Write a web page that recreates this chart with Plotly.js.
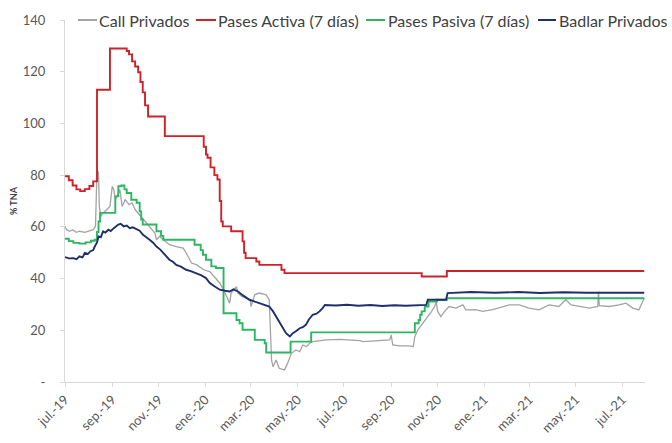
<!DOCTYPE html>
<html>
<head>
<meta charset="utf-8">
<script src="https://cdn.plot.ly/plotly-3.0.1.min.js"></script>
<style>html,body{margin:0;padding:0;background:#fff;}#chart{width:672px;height:443px;}</style>
</head>
<body>
<div id="chart"></div>
<script>
// ---- Data ----
const seriesNames = ['Call Privados', 'Pases Activa (7 días)', 'Pases Pasiva (7 días)', 'Badlar Privados'];

const tickDates = ['2019-07-01','2019-09-01','2019-11-01','2020-01-01','2020-03-01','2020-05-01','2020-07-01','2020-09-01','2020-11-01','2021-01-01','2021-03-01','2021-05-01','2021-07-01'];
const tickLabels = ['jul.-19','sep.-19','nov.-19','ene.-20','mar.-20','may.-20','jul.-20','sep.-20','nov.-20','ene.-21','mar.-21','may.-21','jul.-21'];
const yTickValues = [0, 20, 40, 60, 80, 100, 120, 140];
const yTickLabels = ['-', '20', '40', '60', '80', '100', '120', '140'];

const callDates = ['2019-07-01','2019-07-03','2019-07-07','2019-07-11','2019-07-16','2019-07-20','2019-07-27','2019-08-02','2019-08-07','2019-08-10','2019-08-12','2019-08-14','2019-08-15','2019-08-17','2019-08-20','2019-08-25','2019-08-29','2019-09-01','2019-09-03','2019-09-05','2019-09-11','2019-09-14','2019-09-18','2019-09-23','2019-09-27','2019-10-01','2019-10-07','2019-10-14','2019-10-20','2019-10-27','2019-10-29','2019-11-02','2019-11-07','2019-11-15','2019-11-24','2019-12-03','2019-12-07','2019-12-14','2019-12-21','2019-12-30','2020-01-07','2020-01-13','2020-01-20','2020-01-26','2020-01-31','2020-02-02','2020-02-04','2020-02-11','2020-02-13','2020-02-18','2020-02-29','2020-03-01','2020-03-06','2020-03-12','2020-03-21','2020-03-25','2020-03-28','2020-03-30','2020-04-03','2020-04-07','2020-04-14','2020-04-18','2020-04-23','2020-04-29','2020-05-04','2020-05-08','2020-05-13','2020-05-17','2020-05-21','2020-06-08','2020-06-26','2020-07-04','2020-07-22','2020-07-26','2020-08-12','2020-08-30','2020-09-01','2020-09-03','2020-09-12','2020-09-25','2020-09-30','2020-10-02','2020-10-06','2020-10-11','2020-10-15','2020-10-19','2020-10-24','2020-10-28','2020-10-30','2020-11-01','2020-11-05','2020-11-10','2020-11-16','2020-11-25','2020-12-04','2020-12-08','2020-12-21','2020-12-30','2021-01-12','2021-01-25','2021-02-03','2021-02-16','2021-03-01','2021-03-14','2021-03-27','2021-04-09','2021-04-18','2021-04-25','2021-05-06','2021-05-19','2021-05-30','2021-05-31','2021-06-01','2021-06-14','2021-06-27','2021-07-06','2021-07-15','2021-07-23','2021-07-28','2021-07-30'];
const callValues = [60.2,58.9,58.3,58.9,57.9,58.3,57.9,58.3,58.9,60.2,82.2,80.9,67.9,64.1,65.4,66.7,67.9,75.7,74.4,70.5,74.4,67.9,70.5,68.6,69.3,66.7,64.7,62.1,60.2,57.6,55,56.3,55,53.1,52.4,51.8,49.9,46,45.3,43.4,42.7,40.8,38.3,35,31.8,30.5,34.4,36.9,34.4,33.1,31.8,29.2,33.7,34.4,33.7,31.8,8.5,5.9,8.5,5.3,4.7,7.2,11.1,12.4,11.7,14.3,13.7,15,15.6,16.3,16.5,16.3,16,15.6,16,16.3,18.2,14.3,14,14,13.7,17.6,20.2,22.1,23.4,25.3,27.3,29.2,31.1,27.3,25.3,27.3,29.2,28.6,29.8,27.9,28,27.3,28,29.2,29.8,29.8,28.6,27.9,29.8,29.2,31.8,29.8,29.2,28.6,29.2,35,29.5,29.2,29.8,30.5,28.6,27.9,31.1,32.4];

const activaDates = ['2019-07-01','2019-07-06','2019-07-11','2019-07-16','2019-07-21','2019-07-27','2019-08-02','2019-08-07','2019-08-12','2019-08-29','2019-09-20','2019-09-23','2019-09-27','2019-10-01','2019-10-05','2019-10-08','2019-10-11','2019-10-14','2019-10-18','2019-11-09','2019-12-30','2020-01-02','2020-01-04','2020-01-08','2020-01-13','2020-01-17','2020-01-20','2020-01-22','2020-01-24','2020-02-04','2020-02-19','2020-02-21','2020-02-23','2020-03-08','2020-03-12','2020-04-10','2020-04-14','2020-10-11','2020-11-13','2021-07-30'];
const activaValues = [79.6,78,76,74.5,73.8,74.6,75.8,77.6,113,129,128,126.7,124,122,119.8,116,112,107,102.7,95.1,91,88,86.7,83,80,78.3,70,62.1,60.2,58.3,54.4,50,47.9,46.6,45.3,43.4,42.1,40.8,42.9,42.9];

const pasivaDates = ['2019-07-01','2019-07-06','2019-07-12','2019-07-20','2019-07-28','2019-08-04','2019-08-09','2019-08-12','2019-08-14','2019-08-16','2019-09-05','2019-09-09','2019-09-13','2019-09-17','2019-09-20','2019-09-26','2019-10-03','2019-10-07','2019-10-09','2019-10-11','2019-10-29','2019-11-04','2019-11-07','2019-12-18','2019-12-26','2019-12-29','2020-01-02','2020-01-09','2020-01-15','2020-01-25','2020-02-11','2020-02-15','2020-02-19','2020-03-06','2020-03-19','2020-03-21','2020-04-22','2020-05-19','2020-10-02','2020-10-07','2020-10-09','2020-10-11','2020-10-15','2020-10-20','2020-10-31','2020-11-13','2021-07-30'];
const pasivaValues = [55.4,54.5,53.8,53.5,54,54.6,55,58,62.1,65.4,71.8,75.7,76,74.5,73.1,70.5,69.3,66,62.8,60.9,58.3,56.5,55,53.1,51,49.2,47.3,44.7,44.1,26.6,24,22.7,20.2,16.3,15,11.4,15.6,19.2,22.7,24,26,27.3,29.2,31.1,31.8,32.4,32.4];

const badlarDates = ['2019-07-01','2019-07-06','2019-07-12','2019-07-16','2019-07-20','2019-07-24','2019-07-27','2019-07-31','2019-08-03','2019-08-07','2019-08-09','2019-08-12','2019-08-14','2019-08-17','2019-08-20','2019-08-23','2019-08-27','2019-08-30','2019-09-03','2019-09-06','2019-09-09','2019-09-12','2019-09-16','2019-09-20','2019-09-24','2019-09-28','2019-10-03','2019-10-07','2019-10-11','2019-10-15','2019-10-20','2019-10-25','2019-10-29','2019-11-03','2019-11-07','2019-11-11','2019-11-15','2019-11-20','2019-11-24','2019-11-30','2019-12-07','2019-12-13','2019-12-20','2019-12-27','2020-01-02','2020-01-07','2020-01-13','2020-01-20','2020-01-27','2020-02-02','2020-02-07','2020-02-13','2020-02-20','2020-02-28','2020-03-05','2020-03-12','2020-03-18','2020-03-25','2020-03-30','2020-04-03','2020-04-07','2020-04-10','2020-04-13','2020-04-16','2020-04-21','2020-04-25','2020-04-29','2020-05-04','2020-05-08','2020-05-12','2020-05-16','2020-05-21','2020-05-26','2020-05-30','2020-06-03','2020-06-06','2020-06-20','2020-07-05','2020-07-20','2020-08-05','2020-08-20','2020-09-05','2020-09-20','2020-10-05','2020-10-17','2020-10-19','2020-11-12','2020-11-14','2020-12-15','2021-01-15','2021-02-15','2021-03-15','2021-04-15','2021-05-15','2021-06-15','2021-07-30'];
const badlarValues = [48.3,47.8,47.9,47.5,48.6,48.2,49.9,49.5,50.5,51,52.4,54,56.3,56,58.3,57.8,58.9,58.4,59.5,60.3,60.9,61.2,60.2,60.5,59.5,59.8,58.9,58.5,57,56.2,55,53.8,52.4,51.2,49.9,48.8,47.3,46.4,45.3,44.6,43.4,42.9,42.1,41.2,40.2,38.3,37,35.7,35.3,35,35.8,35,33.4,31.8,31.2,30.5,29.8,29.2,27.3,25.3,23.2,21.4,20.4,18.9,17.6,18.9,19.6,20.8,21.2,22.1,24.2,26,26.4,27.3,28.6,29.8,29.6,29.9,29.5,29.8,29.4,29.7,29.5,29.8,29.8,31.8,31.8,34.4,34.8,34.5,34.8,34.4,34.7,34.5,34.6,34.5];

// ---- Styles ----
const colors = ['#a3a3a3', '#cc2229', '#2eb563', '#1f2f6b'];
const widths = [1.3, 1.9, 1.9, 1.9];
const shapesMode = ['linear', 'hv', 'hv', 'linear'];
const FONT = 'Lato, "Open Sans", sans-serif';

const xs = [callDates, activaDates, pasivaDates, badlarDates];
const ys = [callValues, activaValues, pasivaValues, badlarValues];

const traces = seriesNames.map((n, i) => ({
  type: 'scatter', mode: 'lines', name: n,
  x: xs[i], y: ys[i],
  line: {color: colors[i], width: widths[i], shape: shapesMode[i]},
  hoverinfo: 'skip'
}));

// manual legend (pixel positions converted to paper coords)
const L = 65, R = 645;
const px = p => (p - L) / (R - L);
const legendItems = [
  {x0: 78, x1: 97, tx: 97},
  {x0: 196, x1: 216, tx: 216},
  {x0: 366, x1: 385, tx: 386},
  {x0: 538, x1: 556, tx: 557}
];
const legY = 1.0;
const shapes = legendItems.map((it, i) => ({
  type: 'line', xref: 'paper', yref: 'paper',
  x0: px(it.x0), x1: px(it.x1), y0: legY, y1: legY,
  line: {color: colors[i], width: 2}
}));
const annotations = legendItems.map((it, i) => ({
  xref: 'paper', yref: 'paper', x: px(it.tx), y: legY,
  xanchor: 'left', yanchor: 'middle', showarrow: false,
  text: seriesNames[i], font: {family: FONT, size: 16, color: '#404040'}
}));

const layout = {
  width: 672, height: 443,
  margin: {l: 65, r: 27, t: 20, b: 61},
  paper_bgcolor: '#ffffff', plot_bgcolor: '#ffffff',
  showlegend: false,
  font: {family: FONT, color: '#595959'},
  xaxis: {
    type: 'date', range: ['2019-07-01', '2021-07-31'],
    tickvals: tickDates, ticktext: tickLabels, tickangle: -45,
    tickfont: {size: 13, color: '#595959', family: FONT},
    showgrid: false, zeroline: false,
    showline: true, linecolor: '#d9d9d9', linewidth: 1,
    ticks: 'outside', ticklen: 4, tickcolor: '#d9d9d9'
  },
  yaxis: {
    range: [0, 140],
    tickvals: yTickValues, ticktext: yTickLabels,
    tickfont: {size: 13, color: '#595959', family: FONT},
    showgrid: false, zeroline: false,
    showline: true, linecolor: '#d9d9d9', linewidth: 1,
    ticks: 'outside', ticklen: 4, tickcolor: '#d9d9d9',
    ticklabelstandoff: 12,
    title: {text: '<b>% TNA</b>', font: {size: 9, color: '#404040', family: FONT}, standoff: 3}
  },
  shapes: shapes,
  annotations: annotations
};

Plotly.newPlot('chart', traces, layout, {displayModeBar: false, staticPlot: true});
</script>
</body>
</html>
